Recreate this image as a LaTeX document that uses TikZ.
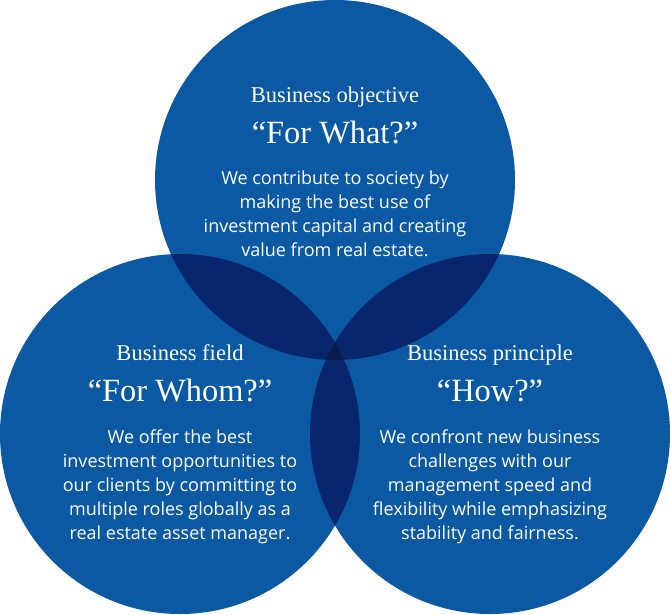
\documentclass[tikz,border=0pt]{standalone}
\usepackage{fontspec}
\setmainfont{Liberation Serif}
\newfontfamily\bodyfont{Open Sans}
\usetikzlibrary{positioning}

\definecolor{ringblue}{HTML}{0B58A3}
\definecolor{pairblue}{HTML}{08266C}
\definecolor{coreblue}{HTML}{0A1A4C}

\begin{document}
\begin{tikzpicture}[x=0.75pt, y=-0.75pt,
    ring/.style={radius=135pt},
    heading/.style={text=white, inner sep=0pt, anchor=base, font=\fontsize{16.9}{18}\selectfont},
    question/.style={text=white, inner sep=0pt, anchor=base, font=\fontsize{24.3}{26}\selectfont},
    blurb/.style={text=white, inner sep=0pt, anchor=north, align=center, font=\bodyfont\fontsize{13.5}{18}\selectfont}]

    \useasboundingbox (0,0) rectangle (670,614);

    % circle centres
    \coordinate (what) at (335,180);
    \coordinate (whom) at (180,434);
    \coordinate (how) at (490,434);

    \fill[ringblue] (what) circle[ring];
    \fill[ringblue] (whom) circle[ring];
    \fill[ringblue] (how) circle[ring];

    % overlaps
    \begin{scope}
        \clip (what) circle[ring];
        \fill[pairblue] (whom) circle[ring];
        \fill[pairblue] (how) circle[ring];
    \end{scope}
    \begin{scope}
        \clip (whom) circle[ring];
        \fill[pairblue] (how) circle[ring];
    \end{scope}
    \begin{scope}
        \clip (what) circle[ring];
        \clip (whom) circle[ring];
        \fill[coreblue] (how) circle[ring];
    \end{scope}

    % top
    \node[heading] (whathead) at (335,102) {Business objective};
    \node[question] (whatq) at (335,143) {“For What?”};
    \node[blurb] (whattext) at (335,171) {We contribute to society by\\making the best use of\\investment capital and creating\\value from real estate.};

    % left
    \node[heading] (whomhead) at (180,360) {Business field};
    \node[question] (whomq) at (180,401) {“For Whom?”};
    \node[blurb] (whomtext) at (180,429) {We offer the best\\investment opportunities to\\our clients by committing to\\multiple roles globally as a\\real estate asset manager.};

    % right
    \node[heading] (howhead) at (490,360) {Business principle};
    \node[question] (howq) at (490,401) {“How?”};
    \node[blurb] (howtext) at (490,429) {We confront new business\\challenges with our\\management speed and\\flexibility while emphasizing\\stability and fairness.};
\end{tikzpicture}
\end{document}
